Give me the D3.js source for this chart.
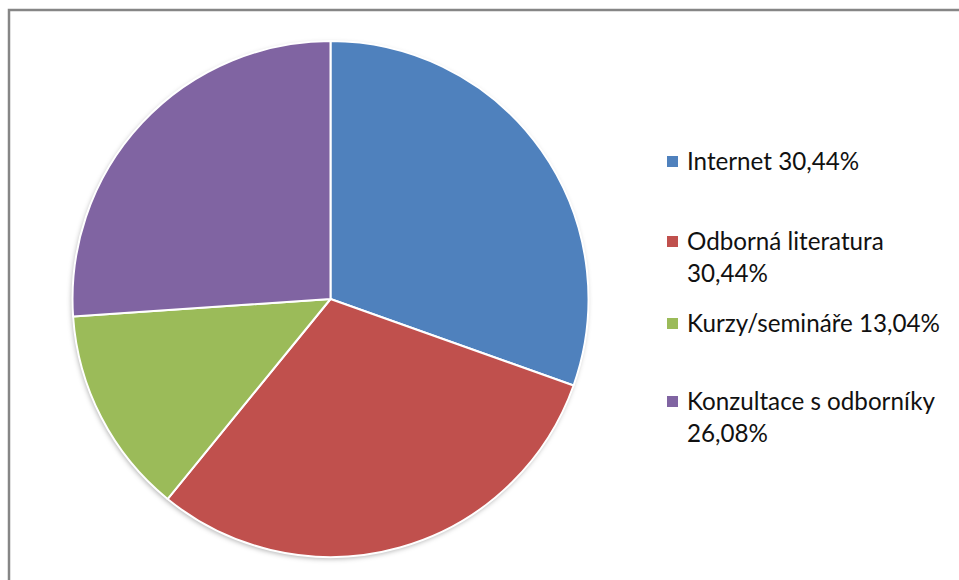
<!DOCTYPE html>
<html><head><meta charset="utf-8">
<script src="https://cdn.jsdelivr.net/npm/d3@7/dist/d3.min.js"></script>
<style>html,body{margin:0;padding:0;background:#fff;overflow:hidden}</style>
</head><body>
<svg id="c" width="959" height="580"></svg>
<script>
const categories = ["Internet", "Odborná literatura", "Kurzy/semináře", "Konzultace s odborníky"];
const values = [30.44, 30.44, 13.04, 26.08];
const labels = [["Internet 30,44%"], ["Odborná literatura", "30,44%"], ["Kurzy/semináře 13,04%"], ["Konzultace s odborníky", "26,08%"]];
const colors = ["#4F81BD", "#C0504D", "#9BBB59", "#8064A2"];

const svg = d3.select("#c");
const defs = svg.append("defs");
const f = defs.append("filter").attr("id","sh").attr("x","-10%").attr("y","-10%").attr("width","120%").attr("height","120%");
f.append("feDropShadow").attr("dx",-1).attr("dy",2).attr("stdDeviation",2.5).attr("flood-color","#000").attr("flood-opacity",0.3);

// frame
svg.append("rect").attr("x",9).attr("y",10).attr("width",980).attr("height",600)
  .attr("fill","#fff").attr("stroke","#868686").attr("stroke-width",2.5);

const cx = 330.5, cy = 299, r = 258;
const pie = d3.pie().sort(null).value(d => d)(values);
const arc = d3.arc().innerRadius(0).outerRadius(r);
const g = svg.append("g").attr("transform",`translate(${cx},${cy})`);
g.append("circle").attr("r",r).attr("fill","#fff").attr("filter","url(#sh)");
g.selectAll("path").data(pie).join("path")
  .attr("d",arc).attr("fill",(d,i)=>colors[i])
  .attr("stroke","#fff").attr("stroke-width",2).attr("stroke-linejoin","round");

// legend
const lx = 667, fs = 24.2;
const baselines = [[170],[250,282],[332],[410,442]];
const lg = svg.append("g");
categories.forEach((c,i)=>{
  const b0 = baselines[i][0];
  lg.append("rect").attr("x",lx).attr("y",b0-14).attr("width",11).attr("height",11).attr("fill",colors[i]);
  labels[i].forEach((t,j)=>{
    lg.append("text").attr("x",lx+20).attr("y",baselines[i][j])
      .attr("font-family","Lato, 'Open Sans', sans-serif").attr("font-size",fs)
      .attr("fill","#111").text(t);
  });
});
</script>
</body></html>
